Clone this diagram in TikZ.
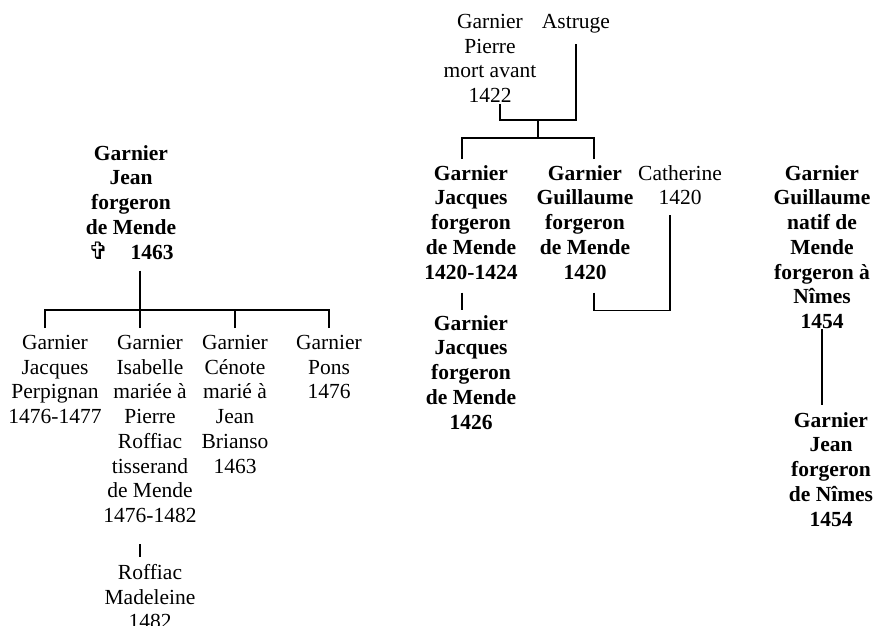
\documentclass[tikz,border=0pt]{standalone}
\usepackage{fontspec}
\setmainfont{Liberation Serif}
\newfontfamily\crossfont{DejaVu Sans}
\usetikzlibrary{positioning}

\tikzset{
  person/.style={align=center, anchor=north, inner sep=0pt, font=\fontsize{21.5}{24.75}\selectfont},
  smith/.style={person, font=\fontsize{21.5}{24.75}\selectfont\bfseries},
  link/.style={line width=1.6pt}
}

\begin{document}
\begin{tikzpicture}[x=1pt,y=1pt]
  \useasboundingbox (0,0) rectangle (875,-625);

  % famille de Jean
  \node[smith] (jean) at (131,-145) {Garnier\\Jean\\forgeron\\de Mende\\{\crossfont\fontsize{24}{20}\selectfont ✞}\hspace{22pt}1463};
  \node[person] (jacques) at (55,-335) {Garnier\\Jacques\\Perpignan\\1476-1477};
  \node[person] (isabelle) at (150,-335) {Garnier\\Isabelle\\mariée à\\Pierre\\Roffiac\\tisserand\\de Mende\\1476-1482};
  \node[person] (cenote) at (235,-335) {Garnier\\Cénote\\marié à\\Jean\\Brianso\\1463};
  \node[person] (pons) at (329,-335) {Garnier\\Pons\\1476};
  \node[person] (roffiac) at (150,-564) {Roffiac\\Madeleine\\1482};

  \coordinate (barL) at (140,-310);
  \draw[link] ([shift={(9,-11)}]jean.south) -- (barL);
  \foreach \kid/\dx in {jacques/-10, isabelle/-10, cenote/0, pons/0}
    \draw[link] ([shift={(\dx,7)}]\kid.north) |- (barL);
  \draw[link] ([shift={(-10,-21)}]isabelle.south) -- ([shift={(-10,7)}]roffiac.north);

  % famille de Pierre
  \node[person] (pierre) at (490,-14) {Garnier\\Pierre\\mort avant\\1422};
  \node[person] (astruge) at (576,-14) {Astruge};
  \node[smith] (jacquesA) at (471,-165) {Garnier\\Jacques\\forgeron\\de Mende\\1420-1424};
  \node[smith] (guillaume) at (585,-165) {Garnier\\Guillaume\\forgeron\\de Mende\\1420};
  \node[person] (catherine) at (680,-165) {Catherine\\1420};
  \node[smith] (jacquesB) at (471,-315) {Garnier\\Jacques\\forgeron\\de Mende\\1426};

  \coordinate (couple) at (538,-120);
  \coordinate (barR) at (538,-138);
  \draw[link] ([shift={(10,-1)}]pierre.south) |- (couple);
  \draw[link] ([yshift=-11]astruge.south) |- (couple);
  \draw[link] (couple) -- (barR);
  \draw[link] ([shift={(-9,6)}]jacquesA.north) |- (barR);
  \draw[link] ([shift={(9,6)}]guillaume.north) |- (barR);
  \draw[link] ([shift={(-9,-13)}]jacquesA.south) -- ([shift={(-9,5)}]jacquesB.north);
  \draw[link] ([shift={(9,-13)}]guillaume.south) -- ++(0,-18) -| ([shift={(-10,-10)}]catherine.south);

  % Nîmes
  \node[smith] (guillaumeN) at (822,-165) {Garnier\\Guillaume\\natif de\\Mende\\forgeron à\\Nîmes\\1454};
  \node[smith] (jeanN) at (831,-412) {Garnier\\Jean\\forgeron\\de Nîmes\\1454};
  \draw[link] (guillaumeN.south) -- ([shift={(-9,7)}]jeanN.north);
\end{tikzpicture}
\end{document}
